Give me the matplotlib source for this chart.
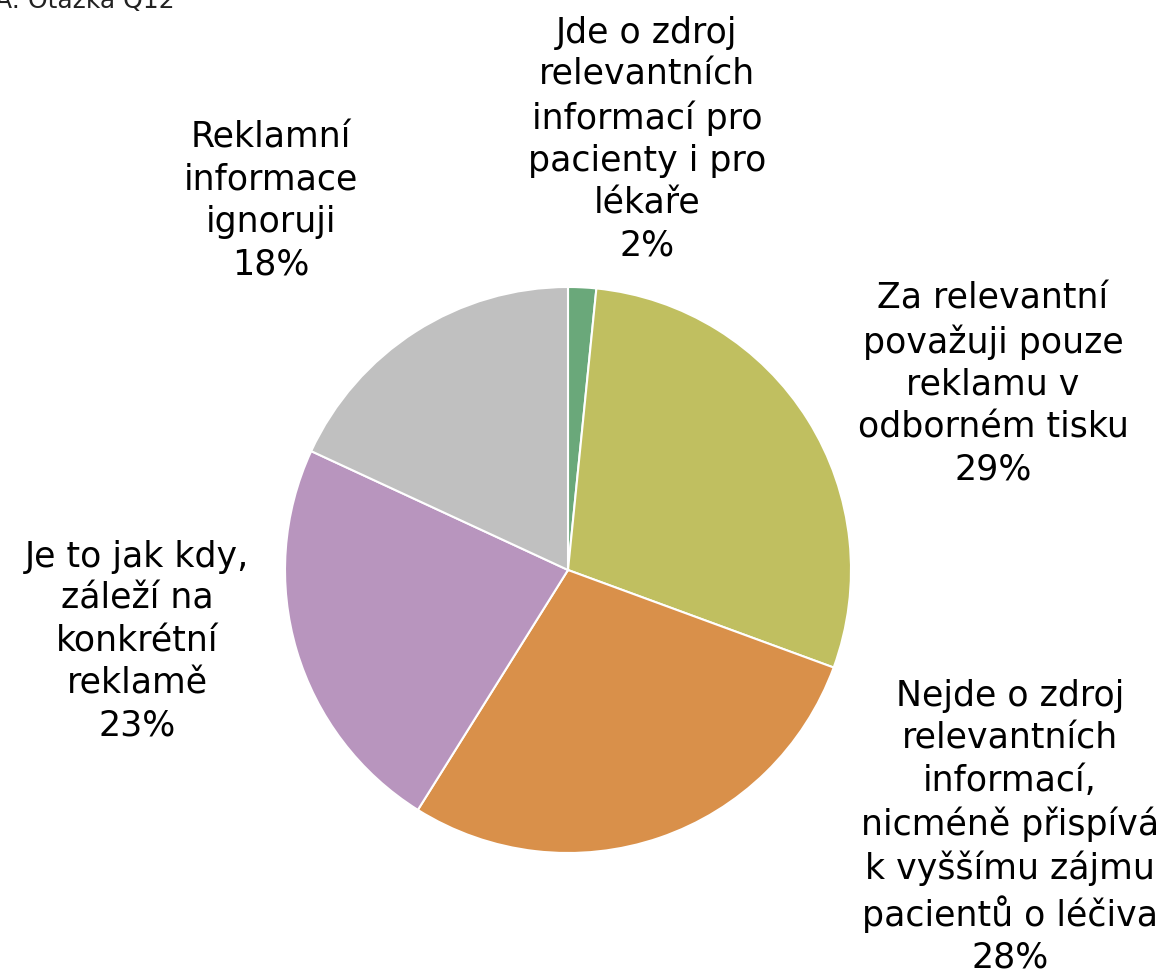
import matplotlib.pyplot as plt

# data
labels = ["Jde o zdroj\nrelevantních\ninformací pro\npacienty i pro\nlékaře",
          "Za relevantní\npovažuji pouze\nreklamu v\nodborném tisku",
          "Nejde o zdroj\nrelevantních\ninformací,\nnicméně přispívá\nk vyššímu zájmu\npacientů o léčiva",
          "Je to jak kdy,\nzáleží na\nkonkrétní\nreklamě",
          "Reklamní\ninformace\nignoruji"]
values = [1.6, 29.0, 28.3, 23.0, 18.1]
pct_text = ["2%", "29%", "28%", "23%", "18%"]
colors = ["#6aa87a", "#c0bf60", "#d9904a", "#b895be", "#c0c0c0"]

# label centres in figure pixels (layout only)
lab_pos = [(647, 139), (993, 384), (1010, 827), (137, 641), (271, 201)]

W, H = 1165, 973
fig = plt.figure(figsize=(W / 100, H / 100), dpi=100)
cx, cy, r = 568, 570, 283
ax = fig.add_axes([(cx - r) / W, (H - cy - r) / H, 2 * r / W, 2 * r / H])
ax.pie(values, colors=colors, startangle=90, counterclock=False,
       wedgeprops=dict(edgecolor="white", linewidth=1.5))
ax.set_xlim(-1, 1)
ax.set_ylim(-1, 1)
ax.set_aspect("equal")
ax.axis("off")

for lab, p, (px, py) in zip(labels, pct_text, lab_pos):
    fig.text(px / W, 1 - py / H, lab + "\n" + p, ha="center", va="center",
             multialignment="center", fontsize=25, linespacing=1.3,
             color="#000000", family="DejaVu Sans")

fig.text(-0.004, 1 - 8 / H, "A: Otázka Q12", ha="left", va="baseline", fontsize=18,
         color="#222222", family="DejaVu Sans")

fig.savefig("out.png", dpi=100)
